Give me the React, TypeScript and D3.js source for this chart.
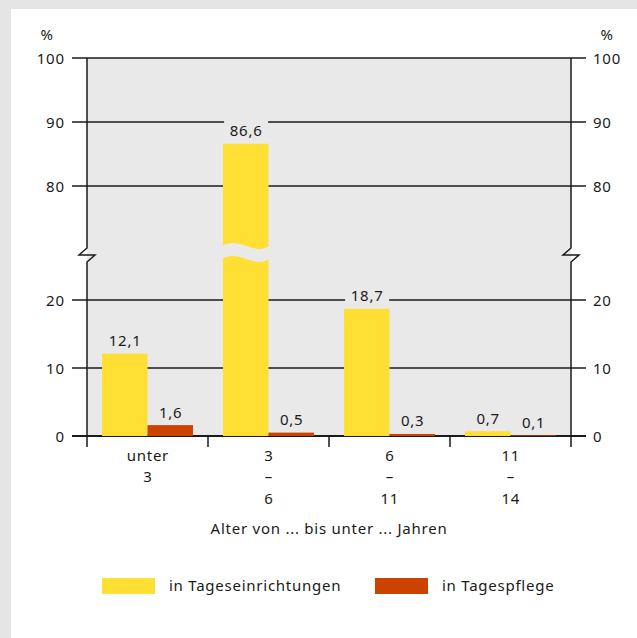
import { useEffect, useRef } from "react";
import * as d3 from "d3";

const categories = ["unter 3", "3 – 6", "6 – 11", "11 – 14"];
const categoryLines = [["unter", "3"], ["3", "–", "6"], ["6", "–", "11"], ["11", "–", "14"]];
const series = ["in Tageseinrichtungen", "in Tagespflege"];
const einrichtungen = [12.1, 86.6, 18.7, 0.7];
const pflege = [1.6, 0.5, 0.3, 0.1];
const lowerTicks = [0, 10, 20];
const upperTicks = [80, 90, 100];

const W = 637;
const H = 638;
const FONT = "'Noto Sans', sans-serif";
const LS = 0.75;
const colors = ["#ffdf33", "#cc4200"];
const plotBg = "#e9e9e9";

export default function App() {
  const svgRef = useRef<SVGSVGElement | null>(null);

  useEffect(() => {
    if (!svgRef.current) return;
    const svg = d3.select(svgRef.current);
    svg.selectAll("*").remove();

    const left = 87;
    const right = 571;
    const breakY = 255;

    // zwei Skalen wegen unterbrochener Achse
    const yLow = d3.scaleLinear().domain([0, 20]).range([436, 300]);
    const yHigh = d3.scaleLinear().domain([80, 100]).range([186, 58]);
    const y = (v: number) => (v > 20 ? (v >= 80 ? yHigh(v) : breakY) : yLow(v));

    const x0 = d3.scaleBand<string>().domain(categories).range([left, right]);
    const x1 = d3
      .scaleBand<string>()
      .domain(series)
      .range([0, x0.bandwidth()])
      .paddingOuter(0.33);

    const txt = (sel: d3.Selection<SVGTextElement, unknown, null, undefined>) =>
      sel
        .attr("font-family", FONT)
        .attr("font-size", 15)
        .attr("letter-spacing", LS)
        .attr("fill", "#1a1a1a");

    svg.append("rect").attr("width", W).attr("height", H).attr("fill", "#e5e5e5");
    svg.append("rect").attr("x", 11).attr("y", 9).attr("width", W - 11).attr("height", H - 9).attr("fill", "#fff");

    svg
      .append("rect")
      .attr("x", left)
      .attr("y", yHigh(100))
      .attr("width", right - left)
      .attr("height", yLow(0) - yHigh(100))
      .attr("fill", plotBg);

    const allTicks = [...lowerTicks.map((t) => ({ t, py: yLow(t) })), ...upperTicks.map((t) => ({ t, py: yHigh(t) }))];

    const grid = svg.append("g");
    allTicks.forEach(({ t, py }) => {
      grid
        .append("line")
        .attr("x1", left - 15)
        .attr("x2", right + 15)
        .attr("y1", py)
        .attr("y2", py)
        .attr("stroke", "#1a1a1a")
        .attr("stroke-width", t === 0 ? 2 : 1.5);
      grid
        .append("text")
        .attr("x", left - 23 + LS)
        .attr("y", py + 5.5)
        .attr("text-anchor", "end")
        .call(txt)
        .text(t);
      grid
        .append("text")
        .attr("x", right + 22)
        .attr("y", py + 5.5)
        .attr("text-anchor", "start")
        .call(txt)
        .text(t);
    });

    [left - 40, right + 36].forEach((px) => {
      svg
        .append("text")
        .attr("x", px)
        .attr("y", 40)
        .attr("text-anchor", "middle")
        .call(txt)
        .text("%");
    });

    // Balken
    const values = [einrichtungen, pflege];
    const bars = svg.append("g");
    categories.forEach((c, i) => {
      series.forEach((s, j) => {
        const v = values[j][i];
        const bx = x0(c)! + x1(s)!;
        const bw = x1.bandwidth();
        bars
          .append("rect")
          .attr("x", bx)
          .attr("y", y(v))
          .attr("width", bw)
          .attr("height", yLow(0) - y(v))
          .attr("fill", colors[j]);
        if (v > 20) {
          const yt = breakY - 9;
          bars
            .append("path")
            .attr(
              "d",
              `M${bx - 1},${yt} C${bx + 17},${yt - 10} ${bx + 29},${yt + 10} ${bx + bw + 1},${yt}` +
                ` L${bx + bw + 1},${yt + 13} C${bx + 29},${yt + 23} ${bx + 17},${yt + 3} ${bx - 1},${yt + 13} Z`
            )
            .attr("fill", plotBg);
        }
        const label = d3.format(".1f")(v).replace(".", ",");
        const tx = bx + bw / 2 + LS / 2;
        const ty = y(v) - 7.5;
        if (v > 15) {
          bars
            .append("rect")
            .attr("x", tx - 22)
            .attr("y", ty - 16)
            .attr("width", 44)
            .attr("height", 20)
            .attr("fill", plotBg);
        }
        bars
          .append("text")
          .attr("x", tx)
          .attr("y", ty)
          .attr("text-anchor", "middle")
          .call(txt)
          .text(label);
      });
    });

    // Achsen mit Bruchzeichen
    const axisStroke = "#1a1a1a";
    [left, right].forEach((ax) => {
      svg
        .append("path")
        .attr(
          "d",
          `M${ax},${yHigh(100)} L${ax},${breakY - 7} L${ax - 8},${breakY} L${ax + 8},${breakY} L${ax},${breakY + 7} L${ax},${yLow(0) + 11}`
        )
        .attr("fill", "none")
        .attr("stroke", axisStroke)
        .attr("stroke-width", 1.5);
    });
    categories.forEach((c) => {
      const cx = x0(c)!;
      if (cx > left) {
        svg
          .append("line")
          .attr("x1", cx)
          .attr("x2", cx)
          .attr("y1", yLow(0))
          .attr("y2", yLow(0) + 11)
          .attr("stroke", axisStroke)
          .attr("stroke-width", 1.5);
      }
    });

    // Kategorien
    categories.forEach((c, i) => {
      const t = svg.append("text").attr("text-anchor", "middle").call(txt);
      categoryLines[i].forEach((line, k) => {
        t.append("tspan")
          .attr("x", x0(c)! + x0.bandwidth() / 2 + LS / 2)
          .attr("y", 460.5 + k * 21.5)
          .text(line);
      });
    });

    svg
      .append("text")
      .attr("x", (left + right) / 2)
      .attr("y", 534)
      .attr("text-anchor", "middle")
      .call(txt)
      .text("Alter von ... bis unter ... Jahren");

    // Legende
    const legendX = [102, 375];
    series.forEach((s, j) => {
      svg
        .append("rect")
        .attr("x", legendX[j])
        .attr("y", 578)
        .attr("width", 53)
        .attr("height", 16)
        .attr("fill", colors[j]);
      svg
        .append("text")
        .attr("x", legendX[j] + 67)
        .attr("y", 591)
        .call(txt)
        .text(s);
    });
  }, []);

  return (
    <svg
      ref={svgRef}
      width={W}
      height={H}
      style={{ position: "absolute", left: 0, top: 0, display: "block" }}
    ></svg>
  );
}
